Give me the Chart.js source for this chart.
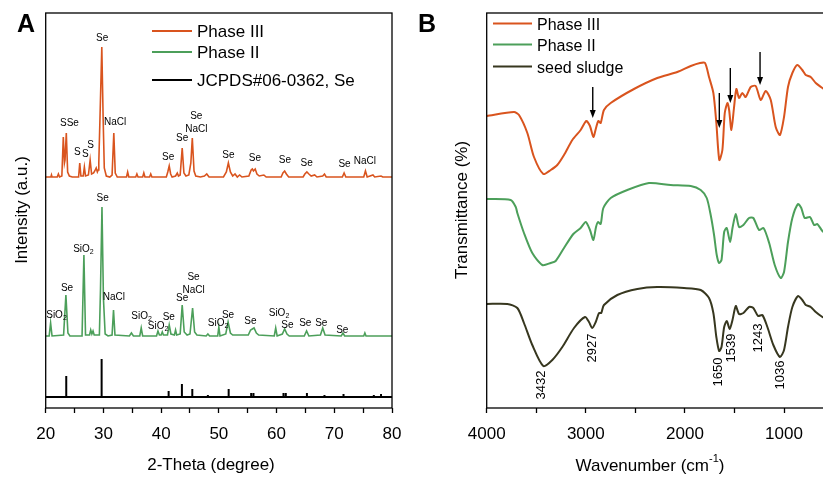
<!DOCTYPE html>
<html>
<head>
<meta charset="utf-8">
<script src="https://cdn.jsdelivr.net/npm/chart.js@4.4.1/dist/chart.umd.min.js"></script>
<style>
  html, body { margin: 0; padding: 0; background: #fff; overflow: hidden; }
  #wrap { position: relative; width: 823px; height: 480px; overflow: hidden; }
  canvas { position: absolute; left: 0; top: 0; }
</style>
</head>
<body>
<div id="wrap">
  <canvas id="xrd" width="420" height="480"></canvas>
  <canvas id="ftir" width="850" height="480"></canvas>
</div>
<script>
// ---- panel A : XRD, [2theta, intensity (a.u., curves stacked)] ----
const xrdPhase3 = [[20,231],[20.9,231],[21.0,233],[21.1,231],[22.0,231],[22.2,234],[22.4,231],[22.8,232],[23.05,271],[23.25,245],[23.35,248],[23.57,275],[23.8,236],[24.1,232],[24.6,231],[25.7,231],[25.9,245],[26.1,232],[26.5,232],[26.7,241],[26.9,232],[27.4,233],[27.7,248],[27.95,234],[28.3,235],[28.5,237],[28.75,240],[28.95,236],[29.1,238],[29.2,245],[29.45,300],[29.72,361],[29.95,290],[30.15,240],[30.5,232],[31.1,231],[31.5,233],[31.8,275],[32.05,235],[32.4,231],[34.0,231],[34.2,236],[34.4,231],[35.6,231],[35.8,234],[36.0,231],[36.8,231],[37.0,235],[37.2,231],[38.0,231],[38.2,234],[38.4,231],[40.9,231],[41.15,236],[41.4,242],[41.65,234],[41.9,231],[42.5,232],[42.8,235],[43.0,232],[43.3,233],[43.65,260],[43.95,235],[44.3,232],[44.8,233],[45.15,245],[45.4,270],[45.7,237],[46.0,232],[46.8,231],[47.5,232],[47.9,234],[48.3,231],[50.8,231],[51.3,236],[51.65,245],[52.0,236],[52.4,232],[52.8,234],[53.2,231],[53.6,233],[54.0,231],[55.2,232],[55.6,238],[55.8,239],[56.0,237],[56.3,239],[56.6,234],[57.0,232],[57.8,233],[58.2,231],[60.8,231],[61.1,235],[61.4,237],[61.7,234],[62.1,231],[64.6,231],[64.9,234],[65.25,236],[65.6,234],[66.0,232],[66.6,233],[67.0,231],[68.0,232],[68.3,234],[68.6,231],[71.4,231],[71.7,235],[72.0,231],[75.1,231],[75.4,237],[75.7,231],[76.7,233],[77.0,231],[78.1,232],[78.4,231],[80,231]];

const xrdPhase2 = [[20,72],[20.6,72],[20.85,85],[21.1,72],[23.1,73],[23.5,113],[23.85,75],[24.2,72],[26.3,72],[26.62,153],[26.9,73],[27.6,73],[27.8,78],[28.0,74],[28.2,77],[28.4,73],[29.3,73],[29.5,120],[29.75,201],[30.0,110],[30.3,74],[30.8,72],[31.5,73],[31.75,98],[32.0,73],[34.5,72],[34.85,75],[35.2,72],[36.3,72],[36.55,80],[36.8,72],[39.2,72],[39.45,77],[39.7,73],[40.0,73],[40.2,76],[40.4,73],[41.1,73],[41.4,83],[41.7,74],[42.3,73],[42.5,78],[42.7,73],[43.3,74],[43.65,103],[44.0,76],[44.5,73],[45.0,74],[45.45,100],[45.8,76],[46.2,73],[47.8,72],[48.1,74],[48.4,72],[49.8,72],[50.0,81],[50.2,72],[51.2,74],[51.6,86],[52.0,75],[52.4,73],[55.1,73],[55.5,78],[55.8,79],[56.1,80],[56.5,75],[56.9,73],[59.6,72],[59.85,80],[60.1,72],[61.0,74],[61.4,79],[61.8,74],[62.2,72],[64.8,72],[65.2,77],[65.6,72],[67.6,73],[68.0,80],[68.4,73],[71.2,72],[71.5,75],[71.8,72],[75.1,72],[75.3,75],[75.5,72],[80,72]];

// JCPDS#06-0362 reference sticks
const stickBase = 11;
const stickPos = [23.56, 29.69, 41.3, 43.6, 45.4, 48.1, 51.7, 55.6, 56.0, 61.2, 61.6, 65.26, 68.3, 71.6, 76.85, 78.1];
const stickTop = [32, 49, 17, 24, 19, 13, 19, 15, 15, 15, 15, 15, 13, 14, 13, 14];

const xrdTicks = [20, 30, 40, 50, 60, 70, 80];
const xrdMinorTicks = [25, 35, 45, 55, 65, 75];

// peak labels [2theta, level, text]
const peakLabels3 = [[24.12,285,'SSe'],[25.47,256,'S'],[26.85,254,'S'],[27.79,263,'S'],[29.79,370,'Se'],[32.04,286,'NaCl'],[41.21,251,'Se'],[43.63,270,'Se'],[46.09,292,'Se'],[46.09,279,'NaCl'],[51.66,253,'Se'],[56.26,250,'Se'],[61.45,248,'Se'],[65.21,245,'Se'],[71.78,244,'Se'],[75.29,247,'NaCl']];
const peakLabels2 = [[21.87,93,'SiO2'],[23.69,120,'Se'],[26.54,159,'SiO2'],[29.86,210,'Se'],[31.82,111,'NaCl'],[36.61,92,'SiO2'],[39.48,82,'SiO2'],[41.33,91,'Se'],[43.63,110,'Se'],[45.62,131,'Se'],[45.62,118,'NaCl'],[49.86,85,'SiO2'],[51.59,93,'Se'],[55.47,87,'Se'],[60.42,95,'SiO2'],[61.87,83,'Se'],[64.98,85,'Se'],[67.75,85,'Se'],[71.38,78,'Se']];

// ---- panel B : FTIR, [wavenumber, transmittance (stacked)] ----
const ftirPhase3 = [[4000,292],[3725,296],[3674,293],[3590,275],[3523,251],[3429,234],[3354,238],[3288,243],[3220,253],[3136,268],[3052,278],[2995,287],[2958,282],[2924,271],[2897,280],[2874,287],[2850,285],[2817,298],[2749,305],[2514,319],[2279,330],[2077,336],[1941,342],[1848,345],[1797,345],[1757,331],[1713,315],[1683,285],[1653,248],[1622,258],[1598,295],[1571,305],[1554,298],[1531,278],[1505,300],[1481,319],[1454,310],[1421,315],[1387,311],[1336,321],[1286,322],[1235,308],[1185,317],[1134,308],[1084,281],[1041,273],[1000,291],[960,321],[916,335],[866,343],[816,338],[781,333],[731,331],[680,325],[613,320],[560,316]];

const ftirPhase2 = [[4000,209],[3758,208],[3707,201],[3691,195],[3624,175],[3540,155],[3439,143],[3354,145],[3304,147],[3220,160],[3126,174],[3052,180],[3001,186],[2958,178],[2924,168],[2897,181],[2877,186],[2850,184],[2823,200],[2749,210],[2581,218],[2363,225],[2144,223],[1941,222],[1841,218],[1780,210],[1740,193],[1706,173],[1679,153],[1655,145],[1631,148],[1604,176],[1578,180],[1544,166],[1520,180],[1487,194],[1454,181],[1410,183],[1353,190],[1310,190],[1252,178],[1207,180],[1150,165],[1094,143],[1034,130],[1000,136],[960,166],[916,190],[859,204],[826,200],[791,190],[738,191],[697,183],[664,184],[613,177],[560,173]];

const ftirSeed = [[4000,104],[3792,104],[3691,100],[3624,85],[3540,63],[3429,42],[3338,48],[3237,61],[3119,80],[3008,91],[2968,86],[2935,80],[2900,86],[2867,95],[2844,95],[2817,103],[2682,113],[2480,119],[2279,121],[2009,120],[1841,118],[1757,110],[1713,95],[1683,71],[1655,57],[1631,61],[1604,81],[1578,87],[1548,79],[1520,88],[1487,102],[1454,94],[1410,95],[1353,101],[1310,100],[1262,92],[1219,93],[1168,81],[1108,63],[1041,51],[1000,58],[960,81],[916,101],[859,112],[816,108],[781,103],[731,101],[680,96],[613,91],[560,88]];

const ftirTicks = [4000, 3000, 2000, 1000];
const ftirMinorTicks = [3500, 2500, 1500, 500];
// arrows [wavenumber, from, to]
const arrowMarks = [[2930,321,290],[1653,315,280],[1542,340,305],[1242,356,323]];
// band labels [wavenumber, level, text]
const bandLabels = [[3445,23,'3432'],[2930,60,'2927'],[1663,36,'1650'],[1528,60,'1539'],[1260,70,'1243'],[1041,33,'1036']];

const orange = '#d9541e';
const green = '#4c9f5a';
const olive = '#37371f';
const FONT = '"Liberation Sans", Arial, sans-serif';

function pts(arr) {
  return arr.map(p => ({ x: p[0], y: p[1] }));
}

const stickPts = [{ x: 20, y: stickBase }];
stickPos.forEach((p, i) => {
  stickPts.push({ x: p, y: stickBase }, { x: p, y: stickTop[i] }, { x: p, y: stickBase });
});
stickPts.push({ x: 80, y: stickBase });

// text with optional subscript 2 (SiO2)
function drawLabel(ctx, text, cx, cy) {
  ctx.textBaseline = 'middle';
  ctx.textAlign = 'left';
  if (text === 'SiO2') {
    ctx.font = '10px ' + FONT;
    const w1 = ctx.measureText('SiO').width;
    ctx.font = '7px ' + FONT;
    const w2 = ctx.measureText('2').width;
    const x0 = cx - (w1 + w2) / 2;
    ctx.font = '10px ' + FONT;
    ctx.fillText('SiO', x0, cy);
    ctx.font = '7px ' + FONT;
    ctx.fillText('2', x0 + w1, cy + 3);
  } else {
    ctx.font = '10px ' + FONT;
    const w = ctx.measureText(text).width;
    ctx.fillText(text, cx - w / 2, cy);
  }
}

function legendRow(ctx, x1, x2, y, color, text, tx, ty, size) {
  ctx.strokeStyle = color;
  ctx.lineWidth = 2;
  ctx.beginPath();
  ctx.moveTo(x1, y);
  ctx.lineTo(x2, y);
  ctx.stroke();
  ctx.fillStyle = '#000';
  ctx.font = size + 'px ' + FONT;
  ctx.textAlign = 'left';
  ctx.textBaseline = 'alphabetic';
  ctx.fillText(text, tx, ty);
}

const xrdDecor = {
  id: 'xrdDecor',
  afterDraw(chart) {
    const { ctx, chartArea: a, scales: { x, y } } = chart;
    ctx.save();
    ctx.strokeStyle = '#000';
    ctx.lineWidth = 1.3;
    ctx.strokeRect(a.left, a.top, a.right - a.left, a.bottom - a.top);

    ctx.fillStyle = '#000';
    peakLabels3.concat(peakLabels2).forEach(l => {
      drawLabel(ctx, l[2], x.getPixelForValue(l[0]), y.getPixelForValue(l[1]));
    });

    legendRow(ctx, 152, 192, 31, orange, 'Phase III', 197, 37, 17);
    legendRow(ctx, 152, 192, 52, green, 'Phase II', 197, 58, 17);
    legendRow(ctx, 152, 192, 80, '#000', 'JCPDS#06-0362, Se', 197, 86, 17);

    ctx.fillStyle = '#000';
    ctx.font = '17px ' + FONT;
    ctx.textAlign = 'center';
    ctx.textBaseline = 'middle';
    ctx.fillText('2-Theta (degree)', 211, 465);
    ctx.save();
    ctx.translate(22, 210);
    ctx.rotate(-Math.PI / 2);
    ctx.fillText('Intensity (a.u.)', 0, 0);
    ctx.restore();

    ctx.font = 'bold 25px ' + FONT;
    ctx.textAlign = 'left';
    ctx.textBaseline = 'alphabetic';
    ctx.fillText('A', 17, 32);
    ctx.restore();
  }
};

const ftirDecor = {
  id: 'ftirDecor',
  afterDraw(chart) {
    const { ctx, chartArea: a, scales: { x, y } } = chart;
    ctx.save();
    ctx.strokeStyle = '#000';
    ctx.lineWidth = 1.3;
    ctx.strokeRect(a.left, a.top, a.right - a.left, a.bottom - a.top);

    // arrows
    ctx.fillStyle = '#000';
    ctx.lineWidth = 1.4;
    arrowMarks.forEach(m => {
      const px = x.getPixelForValue(m[0]);
      const y1 = y.getPixelForValue(m[1]);
      const y2 = y.getPixelForValue(m[2]);
      ctx.beginPath();
      ctx.moveTo(px, y1);
      ctx.lineTo(px, y2 - 6);
      ctx.stroke();
      ctx.beginPath();
      ctx.moveTo(px - 3, y2 - 8);
      ctx.lineTo(px + 3, y2 - 8);
      ctx.lineTo(px, y2);
      ctx.closePath();
      ctx.fill();
    });

    // band positions
    ctx.font = '13px ' + FONT;
    ctx.textAlign = 'center';
    ctx.textBaseline = 'middle';
    bandLabels.forEach(b => {
      ctx.save();
      ctx.translate(x.getPixelForValue(b[0]), y.getPixelForValue(b[1]));
      ctx.rotate(-Math.PI / 2);
      ctx.fillText(b[2], 0, 0);
      ctx.restore();
    });

    legendRow(ctx, 493, 532, 23.5, orange, 'Phase III', 537, 30, 16);
    legendRow(ctx, 493, 532, 44.5, green, 'Phase II', 537, 51, 16);
    legendRow(ctx, 493, 532, 66.5, olive, 'seed sludge', 537, 72.5, 16);

    ctx.fillStyle = '#000';
    ctx.font = '17px ' + FONT;
    ctx.textBaseline = 'middle';
    ctx.textAlign = 'left';
    const t1 = 'Wavenumber (cm';
    const w1 = ctx.measureText(t1).width;
    ctx.font = '11px ' + FONT;
    const w2 = ctx.measureText('-1').width;
    ctx.font = '17px ' + FONT;
    const w3 = ctx.measureText(')').width;
    let x0 = 650 - (w1 + w2 + w3) / 2;
    ctx.fillText(t1, x0, 466);
    ctx.font = '11px ' + FONT;
    ctx.fillText('-1', x0 + w1, 459);
    ctx.font = '17px ' + FONT;
    ctx.fillText(')', x0 + w1 + w2, 466);

    ctx.textAlign = 'center';
    ctx.save();
    ctx.translate(462, 210);
    ctx.rotate(-Math.PI / 2);
    ctx.fillText('Transmittance (%)', 0, 0);
    ctx.restore();

    ctx.font = 'bold 25px ' + FONT;
    ctx.textAlign = 'left';
    ctx.textBaseline = 'alphabetic';
    ctx.fillText('B', 418, 32);
    ctx.restore();
  }
};

function xAxis(min, max, major, minor, reverse) {
  return {
    type: 'linear',
    min: min,
    max: max,
    reverse: reverse,
    border: { display: false },
    grid: { drawOnChartArea: false, drawTicks: true, tickLength: 5, tickColor: '#000', tickWidth: 1.3 },
    ticks: {
      autoSkip: false,
      maxRotation: 0,
      padding: 11,
      color: '#000',
      font: { family: FONT, size: 17 },
      callback: v => (major.includes(v) ? String(v) : '')
    },
    afterBuildTicks: s => {
      s.ticks = major.concat(minor).sort((p, q) => p - q).map(v => ({ value: v }));
    },
    afterFit: s => { s.height = 72; }
  };
}

const yAxis = { type: 'linear', min: 0, max: 395, display: false };

new Chart(document.getElementById('xrd'), {
  type: 'line',
  data: {
    datasets: [
      { label: 'Phase III', data: pts(xrdPhase3), borderColor: orange, borderWidth: 1.6 },
      { label: 'Phase II', data: pts(xrdPhase2), borderColor: green, borderWidth: 1.6 },
      { label: 'JCPDS#06-0362, Se', data: stickPts, borderColor: '#000', borderWidth: 2 }
    ]
  },
  options: {
    responsive: false,
    animation: false,
    layout: { padding: { left: 45.7, right: 28, top: 13, bottom: 0 } },
    elements: { point: { radius: 0 }, line: { tension: 0 } },
    plugins: { legend: { display: false }, tooltip: { enabled: false } },
    scales: { x: xAxis(20, 80, xrdTicks, xrdMinorTicks, false), y: yAxis }
  },
  plugins: [xrdDecor]
});

new Chart(document.getElementById('ftir'), {
  type: 'line',
  data: {
    datasets: [
      { label: 'Phase III', data: pts(ftirPhase3), borderColor: orange, borderWidth: 2 },
      { label: 'Phase II', data: pts(ftirPhase2), borderColor: green, borderWidth: 2 },
      { label: 'seed sludge', data: pts(ftirSeed), borderColor: olive, borderWidth: 2 }
    ]
  },
  options: {
    responsive: false,
    animation: false,
    layout: { padding: { left: 486.7, right: 6.5, top: 13, bottom: 0 } },
    elements: { point: { radius: 0 }, line: { tension: 0.25 } },
    plugins: { legend: { display: false }, tooltip: { enabled: false } },
    scales: { x: xAxis(400, 4000, ftirTicks, ftirMinorTicks, true), y: yAxis }
  },
  plugins: [ftirDecor]
});
</script>
</body>
</html>
